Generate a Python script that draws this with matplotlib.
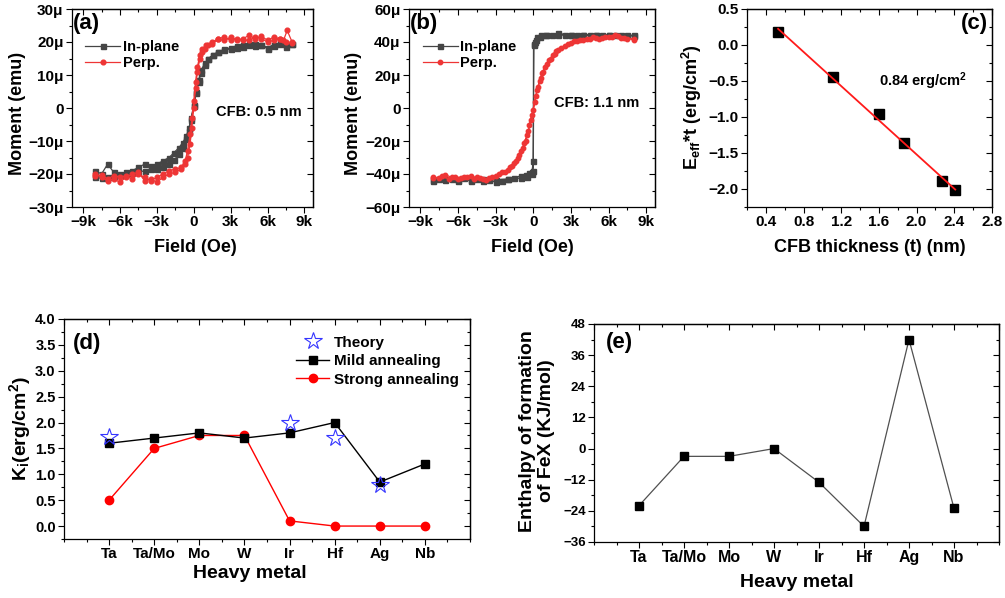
import numpy as np
import matplotlib
matplotlib.use('Agg')
import matplotlib.pyplot as plt
from matplotlib.ticker import MultipleLocator, FuncFormatter

plt.rcParams['font.family'] = ['Liberation Sans', 'DejaVu Sans']
plt.rcParams['font.weight'] = 'bold'
plt.rcParams['axes.labelweight'] = 'bold'
plt.rcParams['mathtext.fontset'] = 'custom'
plt.rcParams['mathtext.rm'] = 'Liberation Sans:bold'
plt.rcParams['mathtext.it'] = 'Liberation Sans:bold'
plt.rcParams['mathtext.bf'] = 'Liberation Sans:bold'
plt.rcParams['axes.linewidth'] = 0.9
plt.rcParams['axes.unicode_minus'] = True

# ---------------- data ----------------
# (a) CFB 0.5 nm, field in kOe, moment in micro-emu
a_ip_field = [8.0, 7.5, 7.0, 6.5, 6.0, 5.5, 5.0, 4.5, 4.0, 3.5, 3.0, 2.5, 2.0, 1.6, 1.2, 0.9, 0.6, 0.4, 0.2, 0.0,
              -0.2, -0.4, -0.6, -0.9, -1.2, -1.6, -2.0, -2.5, -3.0, -3.5, -4.0, -4.5, -5.0, -5.5, -6.0, -6.5, -7.0, -7.5, -8.0,
              -8.0, -7.5, -7.0, -6.5, -6.0, -5.5, -5.0, -4.5, -4.0, -3.5, -3.0, -2.5, -2.0, -1.6, -1.2, -0.9, -0.6, -0.4, -0.2, 0.0,
              0.2, 0.4, 0.6, 0.9, 1.2, 1.6, 2.0, 2.5, 3.0, 3.5, 4.0, 4.5, 5.0, 5.5, 6.0, 6.5, 7.0, 7.5, 8.0]
a_ip_moment = [19.5, 19.0, 19.6, 19.2, 18.3, 19.0, 18.8, 19.3, 18.6, 18.9, 18.2, 17.8, 17.0, 16.2, 15.0, 13.0, 10.5, 8.0, 4.5, 0.5,
               -3.5, -6.0, -8.5, -10.5, -12.0, -13.5, -15.0, -16.0, -17.0, -17.5, -17.0, -18.0, -19.0, -19.5, -20.0, -19.5, -17.0, -20.0, -19.0,
               -21.0, -21.3, -21.0, -20.5, -20.3, -20.0, -19.8, -19.5, -19.0, -18.5, -18.6, -17.8, -17.0, -15.8, -14.0, -12.0, -9.5, -7.0, -3.0, 1.0,
               5.0, 8.5, 11.5, 13.5, 15.0, 16.0, 17.0, 17.5, 18.0, 18.3, 19.0, 19.2, 19.5, 19.0, 18.0, 18.8, 19.3, 18.5, 19.3]
a_pp_field = [8.0, 7.6, 7.3, 7.0, 6.5, 6.0, 5.5, 5.0, 4.5, 4.0, 3.5, 3.0, 2.5, 2.0, 1.5, 1.2, 0.9, 0.7, 0.5, 0.3, 0.15, 0.0,
              -0.15, -0.3, -0.5, -0.7, -1.0, -1.5, -2.0, -2.5, -3.0, -3.5, -4.0, -4.5, -5.0, -5.5, -6.0, -6.5, -7.0, -7.5, -8.0,
              -8.0, -7.5, -7.0, -6.5, -6.0, -5.5, -5.0, -4.5, -4.0, -3.5, -3.0, -2.5, -2.0, -1.5, -1.0, -0.7, -0.5, -0.3, -0.15, 0.0,
              0.15, 0.3, 0.5, 0.7, 1.0, 1.5, 2.0, 2.5, 3.0, 3.5, 4.0, 4.5, 5.0, 5.5, 6.0, 6.5, 7.0, 7.5, 8.0]
a_pp_moment = [20.0, 23.5, 20.5, 21.0, 21.5, 20.5, 21.8, 21.0, 22.0, 21.0, 20.5, 21.5, 20.5, 20.8, 19.5, 19.0, 18.0, 17.0, 15.0, 11.0, 6.0, 0.0,
               -6.0, -11.0, -15.0, -17.0, -18.5, -19.5, -20.0, -21.0, -22.5, -21.5, -22.0, -19.5, -20.0, -21.0, -22.5, -21.5, -22.0, -21.0, -20.0,
               -20.5, -20.3, -21.5, -20.5, -21.0, -20.5, -21.5, -20.0, -21.0, -22.0, -21.0, -20.0, -19.0, -18.5, -18.0, -16.0, -13.0, -8.0, -3.0, 2.0,
               8.0, 12.5, 16.0, 18.0, 19.0, 20.0, 21.0, 21.5, 20.5, 21.0, 20.5, 20.5, 21.5, 21.0, 20.0, 20.5, 21.0, 20.0, 19.8]

# (b) CFB 1.1 nm
b_ip_field = [-8.0, -7.5, -7.0, -6.5, -6.0, -5.5, -5.0, -4.5, -4.0, -3.5, -3.0, -2.5, -2.0, -1.5, -1.0, -0.6, -0.3, -0.1, 0.0,
              0.02, 0.1, 0.3, 0.6, 1.0, 1.5, 2.0, 2.5, 3.0, 3.5, 4.0, 4.5, 5.0, 5.5, 6.0, 6.5, 7.0, 7.5, 8.0,
              8.0, 7.0, 6.0, 5.0, 4.0, 3.0, 2.0, 1.0, 0.5, 0.2, 0.05, 0.0, -0.1, -0.5, -1.0, -2.0, -3.0, -4.0, -5.0, -6.0, -7.0, -8.0]
b_ip_moment = [-44.0, -43.0, -43.5, -43.0, -44.0, -42.5, -43.5, -43.0, -44.5, -43.5, -45.0, -44.0, -43.0, -42.5, -41.0, -40.5, -39.5, -38.5, -32.0,
               38.0, 40.0, 43.0, 44.0, 44.5, 44.0, 45.5, 44.5, 44.0, 44.0, 44.5, 44.0, 44.5, 44.0, 44.5, 44.0, 43.5, 44.0, 43.5,
               44.0, 44.5, 44.0, 44.0, 44.5, 44.5, 44.0, 44.0, 43.0, 41.0, 38.5, -38.0, -40.0, -42.0, -42.5, -43.0, -43.5, -43.0, -44.0, -43.5, -43.0, -43.5]
b_pp_field = [-8.0, -7.5, -7.0, -6.5, -6.0, -5.5, -5.0, -4.5, -4.0, -3.5, -3.0, -2.5, -2.0, -1.7, -1.4, -1.1, -0.8, -0.6, -0.4, -0.2, 0.0,
              0.2, 0.4, 0.6, 0.8, 1.1, 1.4, 1.7, 2.0, 2.5, 3.0, 3.5, 4.0, 4.5, 5.0, 5.5, 6.0, 6.5, 7.0, 7.5, 8.0,
              8.0, 7.25, 6.75, 6.25, 5.75, 5.25, 4.75, 4.25, 3.75, 3.25, 2.75, 2.25, 1.85, 1.55, 1.25, 0.95, 0.7, 0.5, 0.3, 0.1,
              -0.1, -0.3, -0.5, -0.7, -0.95, -1.25, -1.55, -1.85, -2.25, -2.75, -3.25, -3.75, -4.25, -4.75, -5.25, -5.75, -6.25, -6.75, -7.25, -8.0]
b_pp_moment = [-42.0, -42.5, -40.5, -42.0, -43.0, -42.0, -41.5, -42.0, -43.0, -42.5, -41.0, -39.0, -37.5, -35.0, -32.0, -28.5, -24.0, -20.0, -14.0, -7.0, -1.0,
               7.0, 13.0, 18.0, 22.0, 26.5, 30.0, 33.0, 35.0, 37.5, 39.5, 40.5, 41.5, 42.0, 42.5, 42.5, 43.0, 44.0, 42.5, 42.0, 41.5,
               42.0, 42.5, 43.5, 42.8, 43.0, 42.0, 43.0, 42.0, 41.5, 40.5, 38.5, 36.5, 34.5, 32.0, 29.0, 25.0, 21.0, 16.5, 11.0, 3.5,
               -4.0, -10.5, -16.5, -21.0, -26.0, -30.0, -33.5, -36.0, -38.5, -40.0, -42.0, -43.5, -42.5, -43.0, -42.0, -42.5, -42.0, -43.0, -41.5, -42.5]

# (c) E_eff*t vs CFB thickness
c_thickness = [0.53, 1.11, 1.60, 1.87, 2.27, 2.41]
c_Et = [0.18, -0.45, -0.96, -1.36, -1.89, -2.02]

# (d) K_i vs heavy metal
metals = ['Ta', 'Ta/Mo', 'Mo', 'W', 'Ir', 'Hf', 'Ag', 'Nb']
d_mild = [1.6, 1.7, 1.8, 1.7, 1.8, 2.0, 0.85, 1.2]
d_strong = [0.5, 1.5, 1.75, 1.75, 0.1, 0.0, 0.0, 0.0]
d_theory_metals = ['Ta', 'Ir', 'Hf', 'Ag']
d_theory = [1.72, 2.0, 1.7, 0.8]

# (e) enthalpy of formation
e_enthalpy = [-22, -3, -3, 0, -13, -30, 42, -23]

# ---------------- figure ----------------
W, H = 1005, 598
fig = plt.figure(figsize=(W / 100, H / 100), dpi=100)


def add_ax(l, r, t, b):
    return fig.add_axes([l / W, 1 - b / H, (r - l) / W, (b - t) / H])


def _loc_args(loc):
    return (loc._edge.step,)


def style(ax, xmaj, xmin, ymaj, ymin, xsize=11, ysize=11):
    ax.xaxis.set_major_locator(MultipleLocator(xmaj))
    ax.xaxis.set_minor_locator(MultipleLocator(xmin))
    ax.yaxis.set_major_locator(MultipleLocator(ymaj))
    ax.yaxis.set_minor_locator(MultipleLocator(ymin))
    ax.tick_params(which='both', direction='out', width=0.8, top=False, right=False)
    ax.tick_params(which='major', length=4)
    ax.tick_params(which='minor', length=2.5)
    ax.tick_params(axis='x', labelsize=xsize, pad=2)
    ax.tick_params(axis='y', labelsize=ysize, pad=2)
    sx = ax.secondary_xaxis('top')
    sx.xaxis.set_major_locator(MultipleLocator(xmaj))
    sx.xaxis.set_minor_locator(MultipleLocator(xmin))
    sx.tick_params(which='both', direction='in', labeltop=False, width=0.8)
    sx.tick_params(which='major', length=4)
    sx.tick_params(which='minor', length=2.5)
    sy = ax.secondary_yaxis('right')
    sy.yaxis.set_major_locator(MultipleLocator(ymaj))
    sy.yaxis.set_minor_locator(MultipleLocator(ymin))
    sy.tick_params(which='both', direction='in', labelright=False, width=0.8)
    sy.tick_params(which='major', length=4)
    sy.tick_params(which='minor', length=2.5)


def set_labels(ax, xl, yl, xpos, ypos, xsize, ysize):
    ax.set_xlabel(xl, fontsize=xsize, ha='center', va='center')
    ax.set_ylabel(yl, fontsize=ysize, ha='center', va='center')
    ax.xaxis.set_label_coords(*xpos)
    ax.yaxis.set_label_coords(*ypos)


def umu(v, pos):
    if abs(v) < 1e-9:
        return '0'
    return f'{v:.0f}μ'.replace('-', '\u2212')


def kfmt(v, pos):
    if abs(v) < 1e-9:
        return '0'
    return f'{v:.0f}k'.replace('-', '\u2212')


gray = '#454545'
red = '#ee3535'

# ----- (a) -----
axa = add_ax(72, 313, 9, 207)
axa.plot(a_ip_field, a_ip_moment, '-s', color=gray, ms=3.6, lw=0.9, label='In-plane')
axa.plot(a_pp_field, a_pp_moment, '-o', color=red, ms=3.4, lw=0.9, label='Perp.')
axa.set_xlim(-9.9, 9.7)
axa.set_ylim(-30, 30)
style(axa, 3, 1.5, 10, 5)
axa.xaxis.set_major_formatter(FuncFormatter(kfmt))
axa.yaxis.set_major_formatter(FuncFormatter(umu))
set_labels(axa, 'Field (Oe)', 'Moment (emu)', (0.51, -0.207), (-0.226, 0.475), 13, 13)
axa.text(0.005, 0.925, '(a)', transform=axa.transAxes, fontsize=16, ha='left', va='center')
axa.text(0.776, 0.48, 'CFB: 0.5 nm', transform=axa.transAxes, fontsize=10.5, ha='center', va='center')
axa.legend(loc='upper left', bbox_to_anchor=(0.055, 0.845), frameon=False, fontsize=10.5,
           handlelength=2.4, handletextpad=0.2, labelspacing=0.15, borderaxespad=0, borderpad=0)

# ----- (b) -----
axb = add_ax(409, 655, 9, 207)
axb.plot(b_ip_field, b_ip_moment, '-s', color=gray, ms=3.6, lw=0.9, label='In-plane')
axb.plot(b_pp_field, b_pp_moment, '-o', color=red, ms=3.2, lw=0.9, label='Perp.')
axb.set_xlim(-9.9, 9.7)
axb.set_ylim(-60, 60)
style(axb, 3, 1.5, 20, 10)
axb.xaxis.set_major_formatter(FuncFormatter(kfmt))
axb.yaxis.set_major_formatter(FuncFormatter(umu))
set_labels(axb, 'Field (Oe)', 'Moment (emu)', (0.5, -0.207), (-0.226, 0.475), 13, 13)
axb.text(0.005, 0.925, '(b)', transform=axb.transAxes, fontsize=16, ha='left', va='center')
axb.text(0.764, 0.527, 'CFB: 1.1 nm', transform=axb.transAxes, fontsize=10.5, ha='center', va='center')
axb.legend(loc='upper left', bbox_to_anchor=(0.055, 0.845), frameon=False, fontsize=10.5,
           handlelength=2.4, handletextpad=0.2, labelspacing=0.15, borderaxespad=0, borderpad=0)

# ----- (c) -----
axc = add_ax(747, 992, 9, 207)
fit = np.polyfit(c_thickness, c_Et, 1)
fx = np.array([c_thickness[0], c_thickness[-1]])
axc.plot(fx, np.polyval(fit, fx), color='#ff1a1a', lw=1.3, zorder=3)
axc.plot(c_thickness, c_Et, 's', color='black', ms=6.5, zorder=2)
axc.set_xlim(0.2, 2.8)
axc.set_ylim(-2.25, 0.5)
style(axc, 0.4, 0.2, 0.5, 0.25)
axc.xaxis.set_major_formatter(FuncFormatter(lambda v, p: f'{v:.1f}'.replace('-', '\u2212')))
axc.yaxis.set_major_formatter(FuncFormatter(lambda v, p: f'{v:.1f}'.replace('-', '\u2212')))
set_labels(axc, 'CFB thickness (t) (nm)', r'E$_{\mathregular{eff}}$*t (erg/cm$^{\mathregular{2}}$)',
           (0.5, -0.207), (-0.224, 0.505), 13, 13)
axc.text(0.985, 0.925, '(c)', transform=axc.transAxes, fontsize=16, ha='right', va='center')
axc.text(0.72, 0.635, r'0.84 erg/cm$^{\mathregular{2}}$', transform=axc.transAxes, fontsize=10.5,
         ha='center', va='center')

# ----- (d) -----
axd = add_ax(64, 470, 319, 539)
xd = np.arange(len(metals))
th_idx = [metals.index(m) for m in d_theory_metals]
axd.plot(th_idx, d_theory, linestyle='none', marker='*', ms=13, mfc='none', mec='#3535ff',
         mew=0.8, label='Theory', zorder=4)
axd.plot(xd, d_mild, '-s', color='black', ms=6, lw=1.0, label='Mild annealing', zorder=3)
axd.plot(xd, d_strong, '-o', color='#ff0000', ms=6, lw=1.0, label='Strong annealing', zorder=2)
axd.set_xlim(-1, 8)
axd.set_ylim(-0.25, 4.0)
style(axd, 1, 0.5, 0.5, 0.25, xsize=11, ysize=10.5)
axd.set_xticks(xd, metals)
axd.yaxis.set_major_formatter(FuncFormatter(lambda v, p: f'{v:.1f}'))
set_labels(axd, 'Heavy metal', r'K$_{\mathregular{i}}$(erg/cm$^{\mathregular{2}}$)',
           (0.458, -0.155), (-0.108, 0.5), 14, 14)
axd.text(0.022, 0.89, '(d)', transform=axd.transAxes, fontsize=16, ha='left', va='center')
axd.legend(loc='upper left', bbox_to_anchor=(0.572, 0.925), frameon=False, fontsize=11,
           handlelength=2.15, handletextpad=0.3, labelspacing=0.3, borderaxespad=0, borderpad=0)

# ----- (e) -----
axe = add_ax(594, 999, 324, 542)
axe.plot(xd, e_enthalpy, '-s', color='#505050', mfc='black', mec='black', ms=6, lw=0.9)
axe.set_xlim(-1, 8)
axe.set_ylim(-36, 48)
style(axe, 1, 0.5, 12, 6, xsize=11.5, ysize=9.5)
axe.set_xticks(xd, metals)
axe.yaxis.set_major_formatter(FuncFormatter(lambda v, p: f'{v:.0f}'.replace('-', '\u2212')))
set_labels(axe, 'Heavy metal', 'Enthalpy of formation\nof FeX (KJ/mol)',
           (0.5, -0.188), (-0.141, 0.51), 14, 14)
axe.text(0.03, 0.913, '(e)', transform=axe.transAxes, fontsize=16, ha='left', va='center')

fig.savefig('out.png', dpi=100)
